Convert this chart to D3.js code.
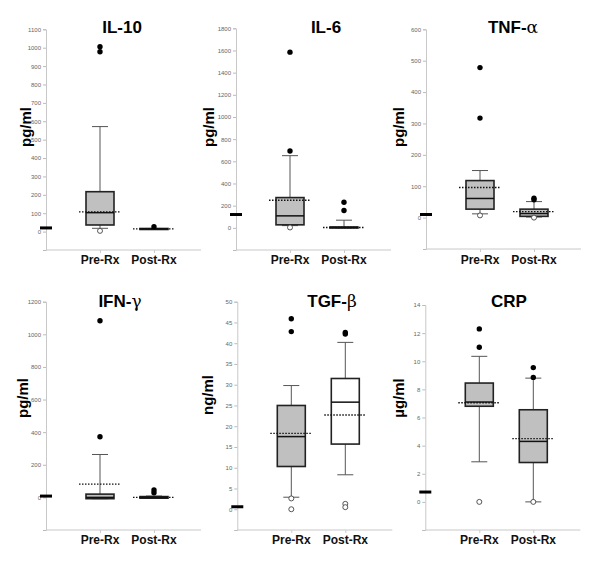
<!DOCTYPE html>
<html><head><meta charset="utf-8">
<script src="https://cdn.jsdelivr.net/npm/d3@7"></script>
<style>body{margin:0;background:#fff}svg{display:block}</style>
</head><body>
<script>
// ---- data ----
const titleBase = ["IL-10", "IL-6", "TNF-", "IFN-", "TGF-", "CRP"];
const titleGreek = ["", "", "\u03b1", "\u03b3", "\u03b2", ""];
const units = ["pg/ml", "pg/ml", "pg/ml", "pg/ml", "ng/ml", "\u00b5g/ml"];
const categories = ["Pre-Rx", "Post-Rx"];
const yMin = [-100, -200, -100, -200, -5, -2];
const yMax = [1100, 1800, 600, 1200, 50, 14];
const yStep = [100, 200, 100, 200, 5, 2];
const controlValue = [20, 120, 10, 8, 0.6, 0.7];
// [low whisker, q1, median, q3, high whisker, mean]
const preStats = [
  [18, 36, 103, 217, 571, 107],
  [20, 27, 108, 273, 651, 249],
  [12, 27, 61, 118, 150, 96],
  [-8, -8, 0, 20, 263, 81],
  [2.9, 10.3, 17.5, 25.0, 29.8, 18.3],
  [2.85, 6.8, 7.1, 8.45, 10.35, 7.05]
];
const postStats = [
  [12, 12, 15, 17, 17, 15],
  [0, 2, 5, 7, 69, 3],
  [2, 4, 13, 27, 51, 19],
  [-5, -5, 0, 5, 8, 0],
  [8.3, 15.7, 25.8, 31.5, 40.2, 22.7],
  [0, 2.8, 4.3, 6.55, 8.8, 4.5]
];
const preOutFilled = [[1005, 978], [1585, 693], [478, 317], [1083, 372], [45.9, 42.8], [12.3, 11.0]];
const preOutOpen = [[4], [3], [7], [], [2.6, 0], [0]];
const postOutFilled = [[27], [231, 156], [62, 57], [45, 28], [42.6, 42.2], [9.55, 8.85]];
const postOutOpen = [[], [], [0], [], [1.3, 0.5], [0]];
const postFill = ["#c0c0c0", "#c0c0c0", "#c0c0c0", "#c0c0c0", "#ffffff", "#c0c0c0"];

// ---- layout (pixels) ----
const layout = [
  {ax: 46,  top: 29.3, bot: 250, titleX: 122, titleY: 33,  labX: 31,  labY: 127, catY: 264},
  {ax: 236, top: 28.3, bot: 250, titleX: 326, titleY: 33,  labX: 214, labY: 127, catY: 264},
  {ax: 426, top: 29.3, bot: 249, titleX: 513, titleY: 33,  labX: 404, labY: 127, catY: 264},
  {ax: 46,  top: 301.7, bot: 530, titleX: 120, titleY: 307, labX: 28, labY: 398, catY: 544},
  {ax: 237.3, top: 301.7, bot: 530, titleX: 332, titleY: 307, labX: 213, labY: 395, catY: 544},
  {ax: 425.3, top: 305, bot: 530, titleX: 509, titleY: 307, labX: 404, labY: 398, catY: 544}
];

const svg = d3.select("body").append("svg").attr("width", 600).attr("height", 574);
const font = "'Liberation Sans', Arial, Helvetica, sans-serif";

titleBase.forEach((t, i) => {
  const L = layout[i];
  const g = svg.append("g");
  const y = d3.scaleLinear().domain([yMin[i], yMax[i]]).range([L.bot, L.top]);
  const x = d3.scalePoint().domain(["ctrl", ...categories, "end"]).range([L.ax, L.ax + 162]);
  const tickVals = d3.range(0, yMax[i] + yStep[i] / 2, yStep[i]);

  // y axis
  const yAxis = d3.axisLeft(y).tickValues([yMin[i], ...tickVals]).tickSize(3).tickPadding(2)
    .tickFormat(v => v < 0 ? "" : d3.format("d")(v));
  const ga = g.append("g").attr("transform", `translate(${L.ax},0)`).call(yAxis);
  ga.select(".domain").attr("stroke", "#c8c8c8");
  ga.selectAll(".tick line").attr("stroke", "#bbb");
  ga.selectAll(".tick text").attr("fill", "#666").attr("font-size", 6).attr("font-family", font);

  // x axis
  const xAxis = d3.axisBottom(x).tickValues(categories).tickSize(-3).tickFormat("");
  const gx = g.append("g").attr("transform", `translate(0,${L.bot})`).call(xAxis);
  gx.select(".domain").attr("stroke", "#c8c8c8").attr("d", `M${L.ax},0H${L.ax + 155}`);
  gx.selectAll(".tick line").attr("stroke", "#ccc").attr("y2", 3);

  categories.forEach(c => {
    g.append("text").attr("x", x(c)).attr("y", L.catY).attr("text-anchor", "middle")
      .attr("font-family", font).attr("font-weight", "bold").attr("font-size", 12).attr("fill", "#111").text(c);
  });

  // title
  const tt = g.append("text").attr("x", L.titleX).attr("y", L.titleY).attr("text-anchor", "middle")
    .attr("font-family", font).attr("font-weight", "bold").attr("font-size", 17).attr("fill", "#000");
  tt.append("tspan").text(t);
  if (titleGreek[i]) tt.append("tspan").attr("font-family", "'DejaVu Serif', 'Liberation Serif', serif")
    .attr("font-weight", "normal").text(titleGreek[i]);
  // y label
  g.append("text").attr("transform", `translate(${L.labX},${L.labY}) rotate(-90)`).attr("text-anchor", "middle")
    .attr("font-family", font).attr("font-weight", "bold").attr("font-size", 15).attr("fill", "#000").text(units[i]);

  // control marker
  g.append("line").attr("x1", x("ctrl") - 6).attr("x2", x("ctrl") + 6)
    .attr("y1", y(controlValue[i])).attr("y2", y(controlValue[i]))
    .attr("stroke", "#000").attr("stroke-width", 3);

  const groups = [
    {c: "Pre-Rx", s: preStats[i], f: preOutFilled[i], o: preOutOpen[i], fill: "#c0c0c0"},
    {c: "Post-Rx", s: postStats[i], f: postOutFilled[i], o: postOutOpen[i], fill: postFill[i]}
  ];
  groups.forEach(G => {
    const cx = x(G.c), [lo, q1, med, q3, hi, mean] = G.s;
    const bw = 28, cw = 16, mw = 42;
    g.append("line").attr("x1", cx).attr("x2", cx).attr("y1", y(q3)).attr("y2", y(hi)).attr("stroke", "#555");
    g.append("line").attr("x1", cx).attr("x2", cx).attr("y1", y(q1)).attr("y2", y(lo)).attr("stroke", "#555");
    g.append("line").attr("x1", cx - cw / 2).attr("x2", cx + cw / 2).attr("y1", y(hi)).attr("y2", y(hi)).attr("stroke", "#555");
    g.append("line").attr("x1", cx - cw / 2).attr("x2", cx + cw / 2).attr("y1", y(lo)).attr("y2", y(lo)).attr("stroke", "#555");
    g.append("rect").attr("x", cx - bw / 2).attr("width", bw).attr("y", y(q3))
      .attr("height", Math.max(1, y(q1) - y(q3))).attr("fill", G.fill).attr("stroke", "#222").attr("stroke-width", 1.6);
    g.append("line").attr("x1", cx - bw / 2).attr("x2", cx + bw / 2).attr("y1", y(med)).attr("y2", y(med))
      .attr("stroke", "#111").attr("stroke-width", 1.5);
    g.append("line").attr("x1", cx - mw / 2).attr("x2", cx + mw / 2).attr("y1", y(mean)).attr("y2", y(mean))
      .attr("stroke", "#111").attr("stroke-width", 1.3).attr("stroke-dasharray", "1.5,1.5");
    G.f.forEach(v => g.append("circle").attr("cx", cx).attr("cy", y(v)).attr("r", 2.7).attr("fill", "#000"));
    G.o.forEach(v => g.append("circle").attr("cx", cx).attr("cy", y(v)).attr("r", 2.5)
      .attr("fill", "#fff").attr("stroke", "#444").attr("stroke-width", 0.9));
  });
});
</script>
</body></html>
